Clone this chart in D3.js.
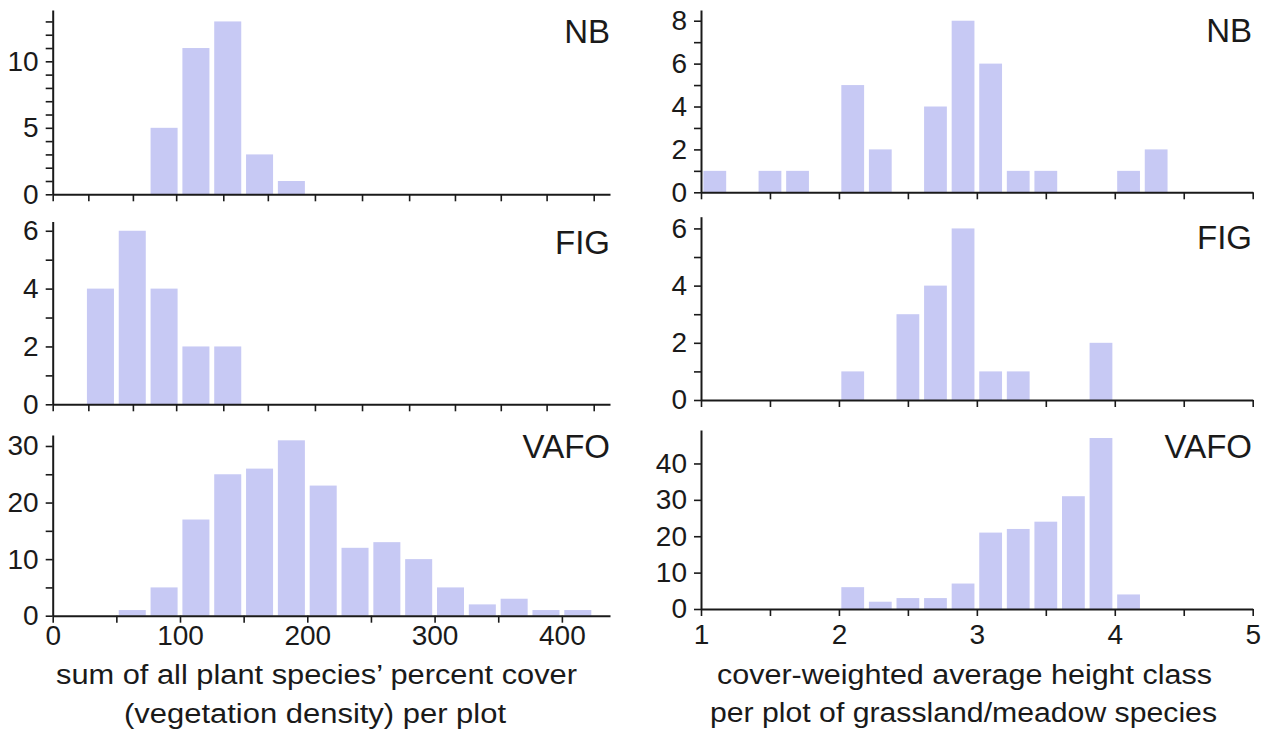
<!DOCTYPE html>
<html>
<head>
<meta charset="utf-8">
<script src="https://cdn.jsdelivr.net/npm/d3@7"></script>
<style>
  html, body { margin: 0; padding: 0; background: #ffffff; }
  svg { display: block; }
  text { font-family: "Liberation Sans", Arial, Helvetica, sans-serif; fill: #1a1a1a; }
</style>
</head>
<body>
<script>
// ---------------- DATA ----------------
// Left column: sum of all plant species' percent cover (bin lower edges, width 25)
const coverBins = [25, 50, 75, 100, 125, 150, 175, 200, 225, 250, 275, 300, 325, 350, 375, 400];
const coverBinWidth = 25;
const coverNB   = [0, 0, 5, 11, 13, 3, 1, 0, 0, 0, 0, 0, 0, 0, 0, 0];
const coverFIG  = [4, 6, 4, 2, 2, 0, 0, 0, 0, 0, 0, 0, 0, 0, 0, 0];
const coverVAFO = [0, 1, 5, 17, 25, 26, 31, 23, 12, 13, 10, 5, 2, 3, 1, 1];

// Right column: cover-weighted average height class (bin lower edges, width 0.2)
const heightBins = [1.0, 1.2, 1.4, 1.6, 1.8, 2.0, 2.2, 2.4, 2.6, 2.8, 3.0, 3.2, 3.4, 3.6, 3.8, 4.0, 4.2];
const heightBinWidth = 0.2;
const heightNB   = [1, 0, 1, 1, 0, 5, 2, 0, 4, 8, 6, 1, 1, 0, 0, 1, 2];
const heightFIG  = [0, 0, 0, 0, 0, 1, 0, 3, 4, 6, 1, 1, 0, 0, 2, 0, 0];
const heightVAFO = [0, 0, 0, 0, 0, 6, 2, 3, 3, 7, 21, 22, 24, 31, 47, 4, 0];

const panelNames = ["NB", "FIG", "VAFO"];

// tick values
const coverTopTicks = [0, 28, 63, 97, 134, 169, 206, 243, 280, 316, 352, 388, 425];
const coverBottomTicks = [0, 50, 100, 150, 200, 250, 300, 350, 400];
const coverBottomLabels = [0, 100, 200, 300, 400];
const heightTicks = [1, 1.5, 2, 2.5, 3, 3.5, 4, 4.5, 5];
const heightLabels = [1, 2, 3, 4, 5];

const yTicksNBLeft = [0,1,2,3,4,5,6,7,8,9,10,11,12,13];
const yLabelsNBLeft = [0, 5, 10];
const yTicksFIGLeft = [0,1,2,3,4,5,6];
const yLabelsFIGLeft = [0, 2, 4, 6];
const yTicksVAFOLeft = [0,5,10,15,20,25,30];
const yLabelsVAFOLeft = [0, 10, 20, 30];
const yTicksNBRight = [0,1,2,3,4,5,6,7,8];
const yLabelsNBRight = [0, 2, 4, 6, 8];
const yTicksFIGRight = [0,1,2,3,4,5,6];
const yLabelsFIGRight = [0, 2, 4, 6];
const yTicksVAFORight = [0,10,20,30,40];
const yLabelsVAFORight = [0, 10, 20, 30, 40];

const titleLeft = ["sum of all plant species\u2019 percent cover", "(vegetation density) per plot"];
const titleRight = ["cover-weighted average height class", "per plot of grassland/meadow species"];

// ---------------- LAYOUT ----------------
const W = 1273, H = 734;
const barColor = "#c7c9f4";
const inkColor = "#1a1a1a";

const svg = d3.select("body").append("svg").attr("width", W).attr("height", H);
svg.append("rect").attr("width", W).attr("height", H).attr("fill", "#ffffff");

const panels = [
  { name: "NB", bins: coverBins, bw: coverBinWidth, counts: coverNB,
    xDom: [0, 437.8], xr: [52.7, 610], y0: 194.3, yTop: 10, yMax: 13.86,
    xTicks: coverTopTicks, xLabels: [], yTicks: yTicksNBLeft, yLabels: yLabelsNBLeft,
    labelX: 610, labelY: 43, xPad: 3 },
  { name: "FIG", bins: coverBins, bw: coverBinWidth, counts: coverFIG,
    xDom: [0, 437.8], xr: [52.7, 610], y0: 404.3, yTop: 221.5, yMax: 6.32,
    xTicks: coverTopTicks, xLabels: [], yTicks: yTicksFIGLeft, yLabels: yLabelsFIGLeft,
    labelX: 610, labelY: 254, xPad: 3 },
  { name: "VAFO", bins: coverBins, bw: coverBinWidth, counts: coverVAFO,
    xDom: [0, 437.8], xr: [52.7, 610], y0: 615.7, yTop: 435, yMax: 31.94,
    xTicks: coverBottomTicks, xLabels: coverBottomLabels, yTicks: yTicksVAFOLeft, yLabels: yLabelsVAFOLeft,
    labelX: 610, labelY: 458, xPad: 2 },
  { name: "NB", bins: heightBins, bw: heightBinWidth, counts: heightNB,
    xDom: [1, 5], xr: [701, 1252.7], y0: 192.3, yTop: 10, yMax: 8.5,
    xTicks: heightTicks, xLabels: [], yTicks: yTicksNBRight, yLabels: yLabelsNBRight,
    labelX: 1252, labelY: 42, xPad: 3 },
  { name: "FIG", bins: heightBins, bw: heightBinWidth, counts: heightFIG,
    xDom: [1, 5], xr: [701, 1252.7], y0: 400, yTop: 216.7, yMax: 6.41,
    xTicks: heightTicks, xLabels: [], yTicks: yTicksFIGRight, yLabels: yLabelsFIGRight,
    labelX: 1252, labelY: 249, xPad: 3 },
  { name: "VAFO", bins: heightBins, bw: heightBinWidth, counts: heightVAFO,
    xDom: [1, 5], xr: [701, 1252.7], y0: 609, yTop: 430, yMax: 49.2,
    xTicks: heightTicks, xLabels: heightLabels, yTicks: yTicksVAFORight, yLabels: yLabelsVAFORight,
    labelX: 1252, labelY: 458, xPad: 8 }
];

const inset = 2.4;

panels.forEach(p => {
  const x = d3.scaleLinear().domain(p.xDom).range(p.xr);
  const y = d3.scaleLinear().domain([0, p.yMax]).range([p.y0, p.yTop]);
  const g = svg.append("g");

  // bars
  const data = p.bins.map((b, i) => ({ x0: b, x1: b + p.bw, c: p.counts[i] })).filter(d => d.c > 0);
  g.selectAll("rect.bar").data(data).enter().append("rect")
    .attr("class", "bar")
    .attr("x", d => x(d.x0) + inset)
    .attr("width", d => x(d.x1) - x(d.x0) - 2 * inset)
    .attr("y", d => y(d.c))
    .attr("height", d => y(0) - y(d.c))
    .attr("fill", barColor);

  // y axis
  const yAxis = d3.axisLeft(y)
    .tickValues(p.yTicks)
    .tickFormat(d => p.yLabels.includes(d) ? d3.format("d")(d) : "")
    .tickSize(7).tickSizeOuter(0).tickPadding(7);
  const ya = g.append("g").attr("transform", `translate(${p.xr[0]},0)`).call(yAxis);

  // x axis
  const xAxis = d3.axisBottom(x)
    .tickValues(p.xTicks)
    .tickFormat(d => p.xLabels.includes(d) ? d3.format("d")(d) : "")
    .tickSize(7).tickSizeOuter(0).tickPadding(p.xPad);
  const xa = g.append("g").attr("transform", `translate(0,${p.y0})`).call(xAxis);

  [ya, xa].forEach(a => {
    a.select(".domain").attr("stroke", inkColor).attr("stroke-width", 2);
    a.selectAll(".tick line").attr("stroke", inkColor).attr("stroke-width", 1.6);
    a.selectAll(".tick text").attr("font-size", 28).attr("fill", inkColor)
      .style("font-family", "'Liberation Sans', Arial, Helvetica, sans-serif");
  });

  // panel label
  g.append("text")
    .attr("x", p.labelX).attr("y", p.labelY)
    .attr("text-anchor", "end")
    .attr("font-size", 33)
    .text(p.name);
});

// axis titles
function title(lines, specs) {
  lines.forEach((t, i) => {
    svg.append("text")
      .attr("x", specs[i].x)
      .attr("y", specs[i].y)
      .attr("font-size", 27)
      .attr("textLength", specs[i].len)
      .attr("lengthAdjust", "spacingAndGlyphs")
      .text(t);
  });
}
title(titleLeft, [{ x: 56, y: 684, len: 521 }, { x: 124, y: 723, len: 382 }]);
title(titleRight, [{ x: 717, y: 684, len: 495 }, { x: 710, y: 722, len: 507 }]);
</script>
</body>
</html>
